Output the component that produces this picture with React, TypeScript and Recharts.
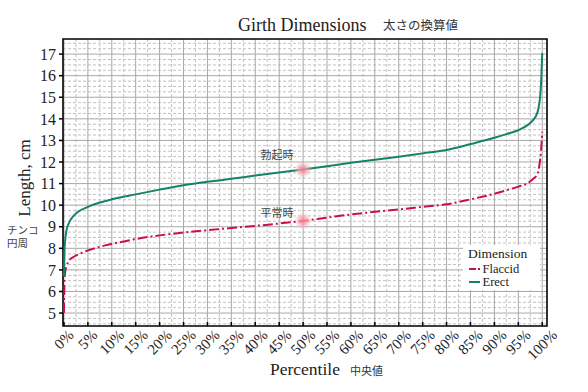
import React from 'react';
import {
  LineChart,
  Line,
  XAxis,
  YAxis,
  CartesianGrid,
  ReferenceArea,
  ReferenceDot,
  Legend,
} from 'recharts';

// ---- data ----
const percentiles = [0, 0.1, 0.25, 0.5, 1, 2, 3, 5, 7.5, 10, 15, 20, 25, 30, 35, 40, 45, 50, 55, 60, 65, 70, 75, 80, 85, 90, 92.5, 95, 97, 98, 99, 99.5, 99.75, 100];
const erectGirth = [6.7, 7.8, 8.35, 8.8, 9.15, 9.5, 9.7, 9.92, 10.12, 10.27, 10.5, 10.72, 10.92, 11.08, 11.22, 11.37, 11.51, 11.65, 11.8, 11.96, 12.1, 12.24, 12.4, 12.56, 12.83, 13.12, 13.29, 13.47, 13.72, 13.92, 14.3, 14.9, 15.6, 17.05];
const flaccidGirth = [5.0, 6.3, 6.9, 7.15, 7.4, 7.6, 7.72, 7.9, 8.07, 8.2, 8.43, 8.6, 8.73, 8.84, 8.94, 9.04, 9.15, 9.27, 9.42, 9.57, 9.69, 9.8, 9.92, 10.04, 10.27, 10.53, 10.69, 10.86, 11.02, 11.2, 11.45, 12.0, 12.5, 13.4];

const xTicks = [0, 5, 10, 15, 20, 25, 30, 35, 40, 45, 50, 55, 60, 65, 70, 75, 80, 85, 90, 95, 100];
const yTicks = [5, 6, 7, 8, 9, 10, 11, 12, 13, 14, 15, 16, 17];
const seriesLabels = ['Flaccid', 'Erect'];
const medianPercentile = 50;
const medianErect = 11.65;
const medianFlaccid = 9.27;
const annotationLabels = ['勃起時', '平常時'];

const data = percentiles.map((p, i) => ({ p, erect: erectGirth[i], flaccid: flaccidGirth[i] }));

const minorX: number[] = xTicks.slice(0, -1).map((t) => t + 2.5);
const minorY: number[] = [];
for (let v = 4.5; v <= 17.5001; v += 0.25) {
  if (Math.abs(v - Math.round(v)) > 0.01) minorY.push(v);
}

const SERIF = '"Liberation Serif", "Times New Roman", serif';
const CJK = '"Noto Sans CJK JP", sans-serif';
const ERECT = '#14836a';
const FLACCID = '#cc0d4f';

const XTick = (props: any) => {
  const { x, y, payload } = props;
  const label = `${payload.value}%`;
  const fs = 15;
  const L = fs * (0.5 * String(payload.value).length + 0.833);
  const cap = fs * 0.66;
  const ax = x + 0.354 * cap;
  const ay = y + 3 + 0.354 * L + 0.707 * cap;
  return (
    <g>
      <line x1={x} x2={x} y1={y} y2={y - 4} stroke="#000" strokeWidth={1.5} />
      <text
        x={ax}
        y={ay}
        textAnchor="middle"
        transform={`rotate(-45, ${ax}, ${ay})`}
        fontSize={fs}
        fontFamily={SERIF}
        fill="#222"
      >
        {label}
      </text>
    </g>
  );
};

const Glow = (dy: number, text: string, id: string) => (props: any) => {
  const { cx, cy } = props;
  return (
    <g>
      <defs>
        <radialGradient id={id}>
          <stop offset="0%" stopColor="#f07d8e" stopOpacity={0.95} />
          <stop offset="45%" stopColor="#f4a3ae" stopOpacity={0.75} />
          <stop offset="100%" stopColor="#f8c6cc" stopOpacity={0} />
        </radialGradient>
      </defs>
      <circle cx={cx} cy={cy} r={9} fill={`url(#${id})`} />
      <text x={cx - 26} y={cy - dy} textAnchor="middle" fontSize={11} fontFamily={CJK} fill="#444">
        {text}
      </text>
    </g>
  );
};

const LegendBox = () => (
  <svg width={77} height={45} style={{ display: 'block', background: '#fff' }}>
    <text x={5} y={12.5} fontSize={13.5} fontFamily={SERIF} fill="#222">Dimension</text>
    <line x1={6} x2={17} y1={24} y2={24} stroke={FLACCID} strokeWidth={2} strokeDasharray="7 2 2 2" />
    <text x={19.5} y={27.5} fontSize={12.5} fontFamily={SERIF} fill="#222">{seriesLabels[0]}</text>
    <line x1={6} x2={17} y1={37} y2={37} stroke={ERECT} strokeWidth={2} />
    <text x={19.5} y={41} fontSize={12.5} fontFamily={SERIF} fill="#222">{seriesLabels[1]}</text>
  </svg>
);

export default function App() {
  return (
    <div style={{ position: 'absolute', left: 0, top: 0, width: 588, height: 392, background: '#fff' }}>
      <LineChart
        width={588}
        height={392}
        data={data}
        margin={{ top: 39, right: 41, bottom: 0, left: 0 }}
      >
        <CartesianGrid
          horizontalValues={minorY}
          verticalValues={minorX}
          stroke="#c2c2c2"
          strokeDasharray="3 2"
        />
        <CartesianGrid horizontalValues={yTicks} verticalValues={xTicks} stroke="#a8a8a8" />
        <XAxis
          dataKey="p"
          type="number"
          domain={[-0.2, 101]}
          ticks={xTicks}
          interval={0}
          height={66}
          axisLine={false}
          tickLine={false}
          tickSize={0}
          tickMargin={0}
          tick={<XTick />}
          allowDataOverflow
        />
        <YAxis
          type="number"
          domain={[4.4, 17.7]}
          ticks={yTicks}
          interval={0}
          width={63}
          axisLine={false}
          tickSize={4}
          tickMargin={3}
          tickLine={{ stroke: '#000', strokeWidth: 1.5 }}
          tick={{ fontSize: 16, fontFamily: SERIF, fill: '#222' }}
          allowDataOverflow
        />
        <Line
          type="monotone"
          dataKey="flaccid"
          name={seriesLabels[0]}
          stroke={FLACCID}
          strokeWidth={2}
          strokeDasharray="10 3 2 3"
          dot={false}
          isAnimationActive={false}
        />
        <Line
          type="monotone"
          dataKey="erect"
          name={seriesLabels[1]}
          stroke={ERECT}
          strokeWidth={2}
          dot={false}
          isAnimationActive={false}
        />
        <ReferenceDot x={medianPercentile} y={medianErect} shape={Glow(11, annotationLabels[0], 'glowA')} />
        <ReferenceDot x={medianPercentile} y={medianFlaccid} shape={Glow(4, annotationLabels[1], 'glowB')} />
        <ReferenceArea
          x1={-0.2}
          x2={101}
          y1={4.4}
          y2={17.7}
          fill="none"
          fillOpacity={0}
          stroke="#000"
          strokeWidth={1.6}
          ifOverflow="visible"
        />
        <Legend
          layout="vertical"
          align="center"
          verticalAlign="middle"
          content={<LegendBox />}
          wrapperStyle={{ position: 'absolute', left: 463, top: 245, width: 77, height: 45 }}
        />
      </LineChart>
      <svg
        width={588}
        height={392}
        style={{ position: 'absolute', left: 0, top: 0, pointerEvents: 'none' }}
      >
        <text x={238} y={31} fontSize={18} fontFamily={SERIF} fill="#222">Girth Dimensions</text>
        <text x={383} y={30} fontSize={12.5} fontFamily={CJK} fill="#333">太さの換算値</text>
        <text x={270} y={375} fontSize={17.5} fontFamily={SERIF} fill="#222">Percentile</text>
        <text x={350} y={375} fontSize={11} fontFamily={CJK} fill="#333">中央値</text>
        <text
          x={29.5}
          y={178}
          textAnchor="middle"
          transform="rotate(-90, 29.5, 178)"
          fontSize={17}
          fontFamily={SERIF}
          fill="#222"
        >
          Length, cm
        </text>
        <text x={7} y={234} fontSize={10.5} fontFamily={CJK} fill="#444">チンコ</text>
        <text x={7} y={247} fontSize={10.5} fontFamily={CJK} fill="#444">円周</text>
      </svg>
    </div>
  );
}
